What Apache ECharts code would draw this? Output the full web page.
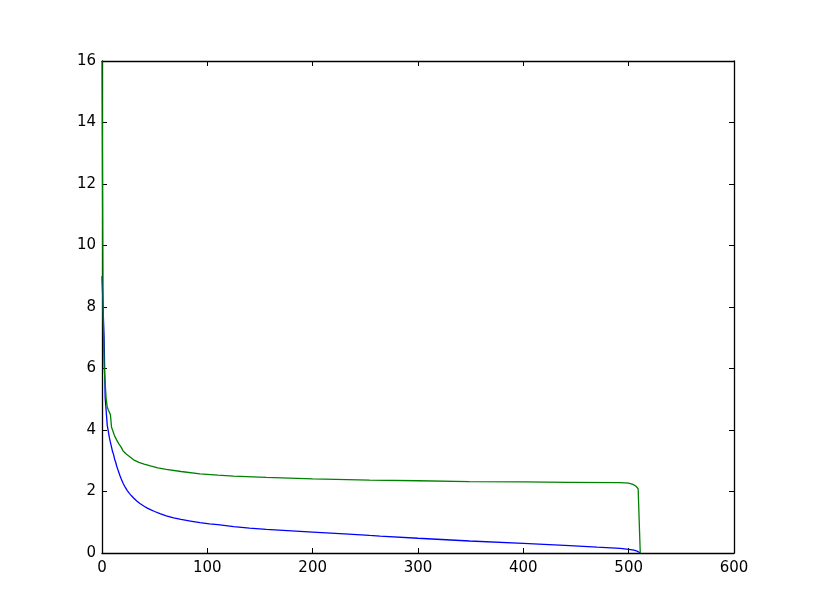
<!DOCTYPE html>
<html>
<head>
<meta charset="utf-8">
<script src="https://cdn.jsdelivr.net/npm/echarts@6/dist/echarts.min.js"></script>
<style>html,body{margin:0;padding:0;background:#fff;}#c{width:815px;height:615px;}</style>
</head>
<body>
<div id="c"></div>
<script>
const blueX = [0,1,2,3,4,5,6,7,8,9,10,11,12,13,14,15,16,17,18,19,20,22,24,26,28,30,33,36,40,43,46,50,55,61,68,75,84,93,102,110,125,140,156,180,200,230,254,264,300,349,400,444,470,492,500,505,508,511];
const blueY = [9,8,7,5.05,5.0,4.15,4.1,3.75,3.6,3.45,3.3,3.2,3.05,2.95,2.82,2.72,2.62,2.52,2.43,2.35,2.27,2.14,2.03,1.94,1.86,1.79,1.69,1.61,1.52,1.46,1.41,1.35,1.28,1.21,1.14,1.09,1.04,0.99,0.95,0.92,0.86,0.81,0.77,0.72,0.68,0.62,0.57,0.55,0.48,0.39,0.31,0.24,0.19,0.15,0.12,0.09,0.06,0];
const greenX = [0,1,2,3,4,5,6,7,8,9,10,11,12,14,16,18,20,23,26,30,35,40,46,53,61,75,93,110,125,156,200,254,300,349,400,444,492,500,504,507,509,510,511];
const greenY = [16,8,6.05,6.0,5.0,4.75,4.65,4.6,4.5,4.1,4.0,3.9,3.8,3.67,3.55,3.45,3.32,3.22,3.14,3.03,2.95,2.89,2.83,2.77,2.72,2.65,2.57,2.53,2.5,2.46,2.41,2.37,2.35,2.32,2.31,2.3,2.29,2.27,2.23,2.17,2.09,2.05,0];
const xTicks = [0,100,200,300,400,500,600];
const yTicks = [0,2,4,6,8,10,12,14,16];

const font = 'DejaVu Sans';
const axisCommon = {
  type: 'value',
  axisLine: {show: true, onZero: false, lineStyle: {color: '#000', width: 1.3}},
  axisTick: {show: true, inside: true, length: 5, lineStyle: {color: '#000', width: 1}},
  splitLine: {show: false}
};
const chart = echarts.init(document.getElementById('c'), null, {renderer: 'canvas'});
chart.setOption({
  animation: false,
  backgroundColor: '#fff',
  grid: {left: 102, right: 81, top: 61, bottom: 62, containLabel: false},
  xAxis: [
    Object.assign({}, axisCommon, {min: xTicks[0], max: xTicks[xTicks.length-1], interval: 100, position: 'bottom',
      axisLabel: {color: '#000', fontFamily: font, fontSize: 15, margin: 8}}),
    Object.assign({}, axisCommon, {min: xTicks[0], max: xTicks[xTicks.length-1], interval: 100, position: 'top',
      axisLabel: {show: false}})
  ],
  yAxis: [
    Object.assign({}, axisCommon, {min: yTicks[0], max: yTicks[yTicks.length-1], interval: 2, position: 'left',
      axisLabel: {color: '#000', fontFamily: font, fontSize: 15, margin: 6}}),
    Object.assign({}, axisCommon, {min: yTicks[0], max: yTicks[yTicks.length-1], interval: 2, position: 'right',
      axisLabel: {show: false}})
  ],
  series: [
    {type: 'line', data: blueX.map((x, i) => [x, blueY[i]]), showSymbol: false, symbol: 'none',
      lineStyle: {color: '#0000ff', width: 1.3}, itemStyle: {color: '#0000ff'}, z: 2},
    {type: 'line', data: greenX.map((x, i) => [x, greenY[i]]), showSymbol: false, symbol: 'none',
      lineStyle: {color: '#008000', width: 1.3}, itemStyle: {color: '#008000'}, z: 3}
  ]
});
</script>
</body>
</html>
